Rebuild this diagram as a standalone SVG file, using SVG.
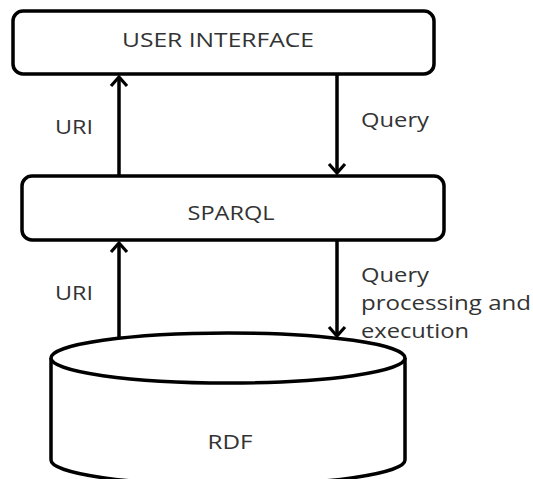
<svg xmlns="http://www.w3.org/2000/svg" width="533" height="479" viewBox="0 0 533 479">
<defs>
<style>
.box{fill:#fff;stroke:#000;stroke-width:3.5}
.t{font-family:"Open Sans","Liberation Sans",sans-serif;font-size:20px;fill:#333}
.c{stroke:#000;stroke-width:3.5;fill:none}
</style>
<marker id="ah" viewBox="0 0 14 20" refX="12" refY="10" markerWidth="14" markerHeight="20" markerUnits="userSpaceOnUse" orient="auto">
<path d="M3,2 L12,10 L3,18" fill="none" stroke="#000" stroke-width="3.2"/>
</marker>
</defs>
<rect width="533" height="479" fill="#fff"/>
<g id="ui">
<rect class="box" x="13" y="11" width="421" height="63" rx="10"/>
<text class="t" x="218" y="47" text-anchor="middle" textLength="192" lengthAdjust="spacingAndGlyphs">USER INTERFACE</text>
</g>
<g id="sparql">
<rect class="box" x="22" y="176" width="422" height="64" rx="10"/>
<text class="t" x="231" y="220" text-anchor="middle" textLength="87" lengthAdjust="spacingAndGlyphs">SPARQL</text>
</g>
<g id="rdf">
<path class="box" d="M51,358 L51,460 A177,25 0 0 0 405,460 L405,358"/>
<ellipse class="box" cx="228" cy="358" rx="177" ry="25"/>
<text class="t" x="230" y="449" text-anchor="middle" textLength="45" lengthAdjust="spacingAndGlyphs">RDF</text>
</g>
<g id="connectors">
<line class="c" x1="119" y1="176" x2="119" y2="77" marker-end="url(#ah)"/>
<line class="c" x1="337" y1="74" x2="337" y2="173" marker-end="url(#ah)"/>
<line class="c" x1="119" y1="338" x2="119" y2="243" marker-end="url(#ah)"/>
<line class="c" x1="337" y1="240" x2="337" y2="336" marker-end="url(#ah)"/>
<text class="t" x="74" y="134" text-anchor="middle" textLength="38" lengthAdjust="spacingAndGlyphs">URI</text>
<text class="t" x="361" y="127" textLength="68" lengthAdjust="spacingAndGlyphs">Query</text>
<text class="t" x="74" y="300" text-anchor="middle" textLength="38" lengthAdjust="spacingAndGlyphs">URI</text>
<text class="t" x="361" y="282" textLength="68" lengthAdjust="spacingAndGlyphs">Query</text>
<text class="t" x="361" y="310" textLength="170" lengthAdjust="spacingAndGlyphs">processing and</text>
<text class="t" x="361" y="338" textLength="108" lengthAdjust="spacingAndGlyphs">execution</text>
</g>
</svg>
